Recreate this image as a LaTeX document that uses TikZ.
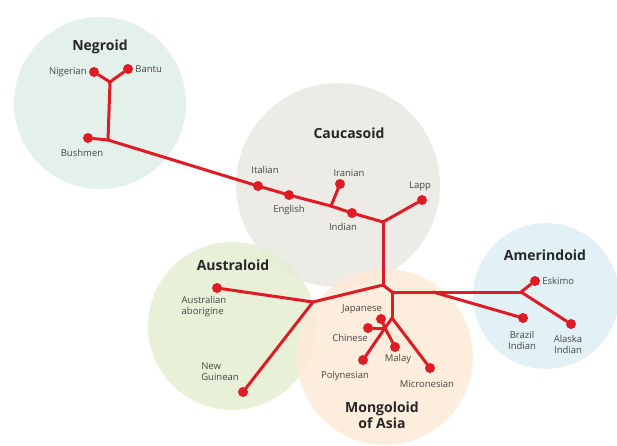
\documentclass[tikz,border=0pt]{standalone}
\usepackage{fontspec}
\setmainfont{Open Sans}
\usetikzlibrary{positioning}
\definecolor{treered}{RGB}{222,28,38}
\definecolor{negroidbg}{RGB}{225,238,232}
\definecolor{caucasoidbg}{RGB}{235,233,226}
\definecolor{australoidbg}{RGB}{229,238,212}
\definecolor{mongoloidbg}{RGB}{253,235,216}
\definecolor{amerindoidbg}{RGB}{222,240,245}
\definecolor{labelgray}{RGB}{70,70,70}
\begin{document}
\begin{tikzpicture}[x=1pt,y=-1pt,node distance=1pt]
\tikzstyle{region}=[circle,inner sep=0pt,fill opacity=0.9]
\tikzstyle{dot}=[circle,fill=treered,inner sep=0pt,minimum size=10pt]
\tikzstyle{branch}=[-,treered,line width=3pt,line cap=round,line join=round]
\tikzstyle{race}=[font=\bfseries\fontsize{14}{15.5}\selectfont,text=black!85,align=center]
\tikzstyle{people}=[font=\fontsize{9.5}{11}\selectfont,text=labelgray,inner sep=1pt]

\useasboundingbox (0,0) rectangle (617,445);
\clip (0,0) rectangle (617,445);

% background circles
\node[region, fill=negroidbg, minimum size=172pt] (negroidzone) at (100,103) {};
\node[region, fill=caucasoidbg, minimum size=204pt] (caucasoidzone) at (338,185) {};
\node[region, fill=australoidbg, minimum size=168pt] (australoidzone) at (232,326) {};
\node[region, fill=mongoloidbg, minimum size=176pt] (mongoloidzone) at (385,357) {};
\node[region, fill=amerindoidbg, minimum size=146pt] (amerindoidzone) at (546,296) {};

% branch points
\coordinate (nfork) at (110,82);
\coordinate (nroot) at (108,140);
\coordinate (irjoin) at (331,206);
\coordinate (chub) at (383,222);
\coordinate (hub) at (383,285);
\coordinate (aujoin) at (313,302);
\coordinate (mjoin) at (392,292);
\coordinate (mfork) at (392,318);
\coordinate (mknot) at (385,328);
\coordinate (amjoin) at (433,292);
\coordinate (ajoin) at (521,292);

% peoples
\node[dot] (nigerian) at (94,72) {};
\node[dot] (bantu) at (128,69) {};
\node[dot] (bushmen) at (88,138) {};
\node[dot] (italian) at (258,186) {};
\node[dot] (english) at (289,195) {};
\node[dot] (iranian) at (340,184) {};
\node[dot] (indian) at (352,213) {};
\node[dot] (lapp) at (422,200) {};
\node[dot] (aborigine) at (217,288) {};
\node[dot] (guinean) at (243,392) {};
\node[dot] (japanese) at (381,319) {};
\node[dot] (chinese) at (368,328) {};
\node[dot] (malay) at (395,347) {};
\node[dot] (polynesian) at (363,360) {};
\node[dot] (micronesian) at (430,368) {};
\node[dot] (eskimo) at (535,281) {};
\node[dot] (brazil) at (523,318) {};
\node[dot] (alaska) at (571,324) {};

\path
  (nfork) edge [branch] (nigerian)
  (nfork) edge [branch] (bantu)
  (nfork) edge [branch] (nroot)
  (nroot) edge [branch] (bushmen)
  (nroot) edge [branch] (italian)
  (italian) edge [branch] (english)
  (english) edge [branch] (irjoin)
  (irjoin) edge [branch] (iranian)
  (irjoin) edge [branch] (indian)
  (indian) edge [branch] (chub)
  (chub) edge [branch] (lapp)
  (chub) edge [branch] (hub)
  (hub) edge [branch] (aujoin)
  (aujoin) edge [branch] (aborigine)
  (aujoin) edge [branch] (guinean)
  (hub) edge [branch] (mjoin)
  (mjoin) edge [branch] (mfork)
  (mfork) edge [branch] (micronesian)
  (mfork) edge [branch] (mknot)
  (mknot) edge [branch] (japanese)
  (mknot) edge [branch] (chinese)
  (mknot) edge [branch] (malay)
  (mknot) edge [branch] (polynesian)
  (mjoin) edge [branch] (amjoin)
  (amjoin) edge [branch] (ajoin)
  (amjoin) edge [branch] (brazil)
  (ajoin) edge [branch] (eskimo)
  (ajoin) edge [branch] (alaska);

% group names
\node[race] (negroidname) at (100,47) {Negroid};
\node[race] (caucasoidname) at (349,133) {Caucasoid};
\node[race] (australoidname) at (233,265) {Australoid};
\node[race] (mongoloidname) at (382,415) {Mongoloid\\of Asia};
\node[race] (amerindoidname) at (545,255) {Amerindoid};

% people names
\node[people, left = of nigerian] {Nigerian};
\node[people, right = of bantu] {Bantu};
\node[people] at (82,153) {Bushmen};
\node[people] at (265,170) {Italian};
\node[people] at (289,210) {English};
\node[people] at (349,173) {Iranian};
\node[people] at (343,227) {Indian};
\node[people] at (420,186) {Lapp};
\node[people, align=left] at (204,307) {Australian\\aborigine};
\node[people, align=left] at (220,372) {New\\Guinean};
\node[people] at (362,309) {Japanese};
\node[people] at (350,338) {Chinese};
\node[people] at (398,359) {Malay};
\node[people] at (345,376) {Polynesian};
\node[people] at (427,384) {Micronesian};
\node[people, right = of eskimo] {Eskimo};
\node[people, align=center] at (522,340) {Brazil\\Indian};
\node[people, align=center] at (568,344) {Alaska\\Indian};
\end{tikzpicture}
\end{document}
